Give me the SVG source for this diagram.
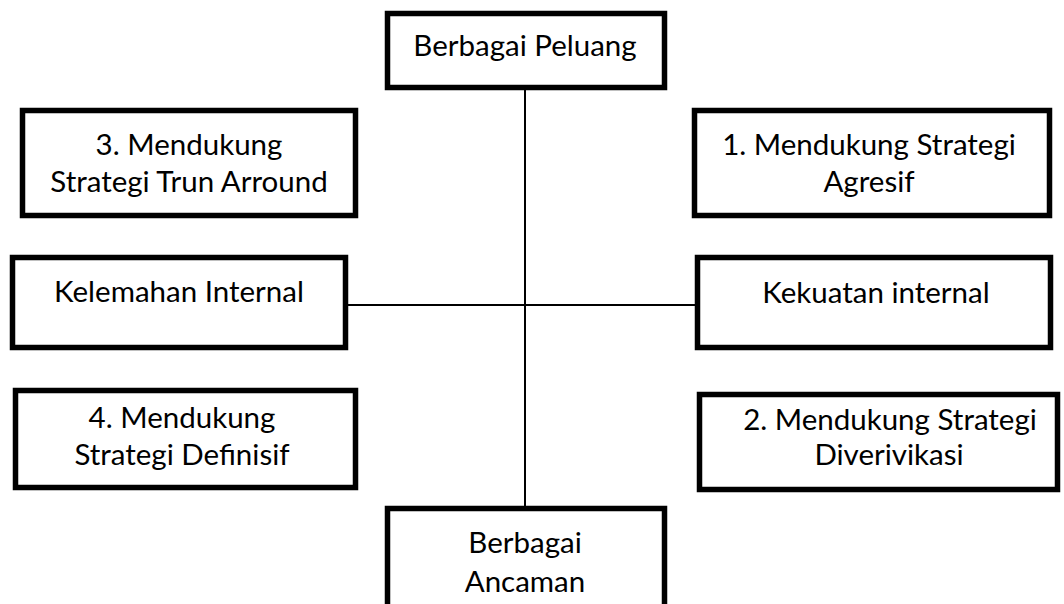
<svg xmlns="http://www.w3.org/2000/svg" width="1064" height="604" viewBox="0 0 1064 604">
<style>
.box{fill:#fff;stroke:#000;stroke-width:5.5}
.t{font-family:Lato,"Open Sans",sans-serif;font-size:29.5px;fill:#000;text-anchor:middle}
.c{stroke:#000;stroke-width:2;fill:none}
</style>
<rect width="1064" height="604" fill="#fff"/>
<g id="connectors">
<line class="c" x1="525" y1="90" x2="525" y2="507"/>
<line class="c" x1="348" y1="305" x2="696" y2="305"/>
</g>
<g id="peluang">
<rect class="box" x="387.5" y="13.5" width="277" height="74"/>
<text class="t" x="525" y="56">Berbagai Peluang</text>
</g>
<g id="ancaman">
<rect class="box" x="387.5" y="508.5" width="277" height="110"/>
<text class="t" x="525" y="553">Berbagai</text>
<text class="t" x="525" y="592">Ancaman</text>
</g>
<g id="s3">
<rect class="box" x="22.5" y="110.5" width="333" height="105"/>
<text class="t" x="189" y="155">3. Mendukung</text>
<text class="t" x="189" y="192">Strategi Trun Arround</text>
</g>
<g id="s1">
<rect class="box" x="694.5" y="110.5" width="355" height="105"/>
<text class="t" x="869" y="155">1. Mendukung Strategi</text>
<text class="t" x="869" y="192">Agresif</text>
</g>
<g id="kelemahan">
<rect class="box" x="12.5" y="257.5" width="333" height="90"/>
<text class="t" x="179" y="302">Kelemahan Internal</text>
</g>
<g id="kekuatan">
<rect class="box" x="697.5" y="257.5" width="353" height="90"/>
<text class="t" x="876" y="303">Kekuatan internal</text>
</g>
<g id="s4">
<rect class="box" x="15.5" y="390.5" width="340" height="97"/>
<text class="t" x="182" y="428">4. Mendukung</text>
<text class="t" x="182" y="465">Strategi Definisif</text>
</g>
<g id="s2">
<rect class="box" x="699.5" y="394.5" width="358" height="95"/>
<text class="t" x="890" y="430">2. Mendukung Strategi</text>
<text class="t" x="889" y="465">Diverivikasi</text>
</g>
</svg>
